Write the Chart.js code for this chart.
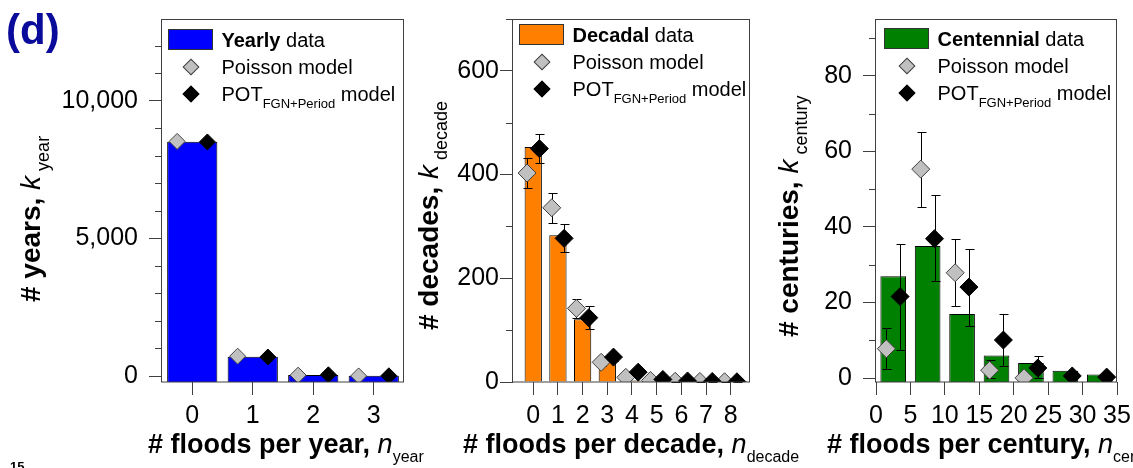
<!DOCTYPE html>
<html>
<head>
<meta charset="utf-8">
<script src="https://cdn.jsdelivr.net/npm/chart.js@4.4.1/dist/chart.umd.min.js"></script>
<style>
  body { margin: 0; background: #fff; }
  #page { position: relative; width: 1133px; height: 468px; overflow: hidden; background: #fff;
          font-family: "Liberation Sans", Arial, sans-serif; color: #000; }
  canvas { position: absolute; top: 0; }
  .lbl { position: absolute; white-space: nowrap; line-height: 1; }
  .xt { font-size: 27px; }
  .xt sub { font-size: 16px; vertical-align: -9px; line-height: 1; }
  .yt { font-size: 28px; transform-origin: 0 0; transform: rotate(-90deg); }
  .yt i { margin-right: 5px; }
  .yt sub { font-size: 18px; vertical-align: -9px; line-height: 1; }
  .xt i, .yt i { font-weight: normal; }
  .leg { font-size: 20px; }
  .leg sub { font-size: 13px; vertical-align: -7px; line-height: 1; }
  .swatch { position: absolute; width: 45px; height: 21px; box-sizing: border-box; border: 1px solid #333; }
  .dia { position: absolute; width: 12px; height: 12px; box-sizing: border-box; border: 1px solid #404040;
         transform: translate(-50%, -50%) rotate(45deg); }
</style>
</head>
<body>
<div id="page">
  <canvas id="yearChart" width="420" height="468" style="left:0px"></canvas>
  <canvas id="decadeChart" width="340" height="468" style="left:420px"></canvas>
  <canvas id="centuryChart" width="373" height="468" style="left:760px"></canvas>

  <div class="lbl" style="left:6px;top:9px;font-size:42px;font-weight:bold;color:#0b0b9b">(d)</div>
  <div class="lbl" style="left:10px;top:460px;font-size:13px;font-weight:bold">15</div>

  <!-- axis titles -->
  <div class="lbl xt" style="left:148px;top:431px"><b># floods per year,</b> <i>n</i><sub>year</sub></div>
  <div class="lbl xt" style="left:463px;top:431px"><b># floods per decade,</b> <i>n</i><sub>decade</sub></div>
  <div class="lbl xt" style="left:827px;top:431px"><b># floods per century,</b> <i>n</i><sub>century</sub></div>

  <div class="lbl yt" style="left:16.8px;top:302px"><b># years,</b> <i>k</i><sub>year</sub></div>
  <div class="lbl yt" style="left:415.3px;top:330px"><b># decades,</b> <i>k</i><sub>decade</sub></div>
  <div class="lbl yt" style="left:775.3px;top:337px"><b># centuries,</b> <i>k</i><sub>century</sub></div>

  <div id="legends"></div>
</div>

<script>
// ---------- data ----------
// yearly panel
const yearN = [0, 1, 2, 3];
const yearData = [8520, 700, 40, 5];
const yearPoisson = [8530, 720, 30, 2];
const yearPot = [8510, 690, 45, 8];

// decadal panel
const decadeN = [0, 1, 2, 3, 4, 5, 6, 7, 8];
const decadeData = [453, 283, 121, 38, 3, 0, 0, 0, 0];
const decadePoisson = [403, 336, 142, 38, 9, 3, 1.5, 1, 0.5];
const decadePoissonLo = [374, 307, 123, 30, 4, 1, 0, 0, 0];
const decadePoissonHi = [432, 365, 160, 46, 13, 5, 3, 2, 1];
const decadePot = [450, 277, 124, 48, 19, 5, 2, 1, 0.5];
const decadePotLo = [422, 250, 103, 40, 14, 3, 1, 0, 0];
const decadePotHi = [479, 304, 146, 56, 24, 8, 4, 2, 1];

// centennial panel (bins of 5 floods)
const centuryBin = [2.5, 7.5, 12.5, 17.5, 22.5, 27.5, 32.5];
const centuryData = [27, 35, 17, 6, 4, 2, 1];
const centuryPoissonN = [1.5, 6.5, 11.5, 16.5, 21.5];
const centuryPoisson = [7.8, 55.3, 27.9, 2.1, 0.1];
const centuryPoissonLo = [2.5, 45.2, 19.1, 0, -0.2];
const centuryPoissonHi = [13.4, 65.1, 36.9, 4.8, 0.4];
const centuryPotN = [3.5, 8.5, 13.5, 18.5, 23.5, 28.5, 33.5];
const centuryPot = [21.6, 36.9, 24.1, 10.1, 2.7, 0.6, 0.3];
const centuryPotLo = [7.5, 25.6, 13.8, 3.1, 0, 0.1, 0];
const centuryPotHi = [35.4, 48.5, 34.3, 17, 6, 1.3, 0.8];

// tick values
const yearTicksY = [0, 5000, 10000];
const decadeTicksY = [0, 200, 400, 600];
const centuryTicksY = [0, 20, 40, 60, 80];
const centuryTicksX = [0, 5, 10, 15, 20, 25, 30, 35];

// ---------- plugins ----------
// error bars drawn just before each marker dataset
const errorBars = {
  id: 'errorBars',
  beforeDatasetDraw(chart, args) {
    const ds = chart.data.datasets[args.index];
    if (!ds.errLo) return;
    const x = chart.scales.x, y = chart.scales.y;
    const ctx = chart.ctx;
    ctx.save();
    ctx.strokeStyle = '#000';
    ctx.lineWidth = 1;
    ctx.beginPath();
    ds.data.forEach((p, i) => {
      const px = Math.round(x.getPixelForValue(p.x)) + 0.5;
      const hi = Math.round(y.getPixelForValue(ds.errHi[i])) + 0.5;
      const lo = Math.round(y.getPixelForValue(ds.errLo[i])) + 0.5;
      ctx.moveTo(px, hi); ctx.lineTo(px, lo);
      ctx.moveTo(px - 4, hi); ctx.lineTo(px + 5, hi);
      ctx.moveTo(px - 4, lo); ctx.lineTo(px + 5, lo);
    });
    ctx.stroke();
    ctx.restore();
  }
};

// box around the plot and short minor ticks on the y axis
const frame = {
  id: 'frame',
  afterDraw(chart, args, opts) {
    const { left, top, right, bottom } = chart.chartArea;
    const ctx = chart.ctx;
    const y = chart.scales.y;
    ctx.save();
    ctx.strokeStyle = '#404040';
    ctx.lineWidth = 1;
    ctx.strokeRect(Math.round(left) - 0.5, Math.round(top) + 0.5, Math.round(right - left), Math.round(bottom - top) - 0.5);
    ctx.beginPath();
    for (let v = Math.ceil(y.min / opts.minor) * opts.minor; v <= y.max; v += opts.minor) {
      if (Math.abs(v / opts.major - Math.round(v / opts.major)) < 1e-9) continue;
      const py = Math.round(y.getPixelForValue(v)) + 0.5;
      ctx.moveTo(left - 7, py);
      ctx.lineTo(left, py);
    }
    ctx.stroke();
    ctx.restore();
  }
};

const tickFont = { family: '"Liberation Sans", Arial, sans-serif', size: 25 };

function axisX(min, max, ticks) {
  return {
    type: 'linear', min: min, max: max, offset: false,
    afterBuildTicks: s => { s.ticks = ticks.map(v => ({ value: v })); },
    afterFit: s => { s.height = 86; s.paddingLeft = 0; s.paddingRight = 0; },
    ticks: { font: tickFont, color: '#000', padding: 6, maxRotation: 0, autoSkip: false },
    grid: { offset: false, drawOnChartArea: false, tickLength: 13, tickColor: '#404040' },
    border: { display: false }
  };
}

function axisY(min, max, ticks, width, pad) {
  return {
    type: 'linear', min: min, max: max,
    afterBuildTicks: s => { s.ticks = ticks.map(v => ({ value: v })); },
    afterFit: s => { s.width = width; s.paddingTop = 0; s.paddingBottom = 0; },
    ticks: { font: tickFont, color: '#000', padding: pad, callback: v => v.toLocaleString('en-US') },
    grid: { drawOnChartArea: false, tickLength: 13, tickColor: '#404040' },
    border: { display: false }
  };
}

function markers(xs, ys, fill, edge, r, lo, hi) {
  return {
    type: 'scatter',
    data: xs.map((v, i) => ({ x: v, y: ys[i] })),
    pointStyle: 'rectRot', pointRadius: r, pointHoverRadius: r,
    backgroundColor: fill, borderColor: edge, borderWidth: 1,
    errLo: lo, errHi: hi
  };
}

function makeChart(id, bars, poisson, pot, scales, padRight, minor, major) {
  return new Chart(document.getElementById(id), {
    type: 'bar',
    data: { datasets: [Object.assign(bars, { order: 3 }), Object.assign(poisson, { order: 2 }), Object.assign(pot, { order: 1 })] },
    options: {
      responsive: false,
      animation: false,
      events: [],
      layout: { padding: { top: 19, right: padRight, left: 0, bottom: 0 } },
      scales: scales,
      plugins: { legend: { display: false }, tooltip: { enabled: false }, frame: { minor: minor, major: major } }
    },
    plugins: [errorBars, frame]
  });
}

// yearly
makeChart('yearChart',
  { type: 'bar', data: yearN.map((n, i) => ({ x: n, y: yearData[i] })),
    backgroundColor: '#0000ff', borderColor: '#000', borderWidth: 1,
    barPercentage: 0.83, categoryPercentage: 1, base: -218 },
  markers(yearN.map(n => n - 0.25), yearPoisson, '#c0c0c0', '#404040', 8),
  markers(yearN.map(n => n + 0.25), yearPot, '#000', '#000', 8),
  { x: axisX(-0.5, 3.5, yearN), y: axisY(-218, 12980, yearTicksY, 162, 11) },
  16, 1000, 5000);

// decadal
makeChart('decadeChart',
  { type: 'bar', data: decadeN.map((n, i) => ({ x: n, y: decadeData[i] })),
    backgroundColor: '#ff8000', borderColor: '#000', borderWidth: 1,
    barPercentage: 0.7, categoryPercentage: 1 },
  markers(decadeN.map(n => n - 0.25), decadePoisson, '#c0c0c0', '#404040', 9, decadePoissonLo, decadePoissonHi),
  markers(decadeN.map(n => n + 0.25), decadePot, '#000', '#000', 9, decadePotLo, decadePotHi),
  { x: axisX(-0.82, 8.78, decadeN), y: axisY(0, 700, decadeTicksY, 93, 1) },
  6, 100, 200);

// centennial
makeChart('centuryChart',
  { type: 'bar', data: centuryBin.map((n, i) => ({ x: n, y: centuryData[i] })),
    backgroundColor: '#008000', borderColor: '#000', borderWidth: 1,
    barPercentage: 0.745, categoryPercentage: 1, base: -1 },
  markers(centuryPoissonN, centuryPoisson, '#c0c0c0', '#404040', 9, centuryPoissonLo, centuryPoissonHi),
  markers(centuryPotN, centuryPot, '#000', '#000', 9, centuryPotLo, centuryPotHi),
  { x: axisX(0, 35, centuryTicksX), y: axisY(-1, 95, centuryTicksY, 116, 11) },
  16, 10, 20);

// ---------- legends (rich text, so plain HTML) ----------
function legend(left, top, color, word) {
  const box = document.getElementById('legends');
  const textLeft = left + 53.5;
  const rows = [
    '<b>' + word + '</b> data',
    'Poisson model',
    'POT<sub>FGN+Period</sub> model'
  ];
  box.insertAdjacentHTML('beforeend',
    '<div class="swatch" style="left:' + left + 'px;top:' + top + 'px;background:' + color + '"></div>');
  rows.forEach((html, i) => {
    const base = top + 17.5 + 27 * i;
    box.insertAdjacentHTML('beforeend',
      '<div class="lbl leg" style="left:' + textLeft + 'px;top:' + (base - 16.9) + 'px">' + html + '</div>');
    if (i > 0) {
      const fill = i === 1 ? '#c0c0c0' : '#000';
      const edge = i === 1 ? '#404040' : '#000';
      box.insertAdjacentHTML('beforeend',
        '<div class="dia" style="left:' + (left + 22.5) + 'px;top:' + (base - 7) + 'px;background:' + fill + ';border-color:' + edge + '"></div>');
    }
  });
}
legend(168, 29, '#0000ff', 'Yearly');
legend(519, 24, '#ff8000', 'Decadal');
legend(884, 28, '#008000', 'Centennial');
</script>
</body>
</html>
